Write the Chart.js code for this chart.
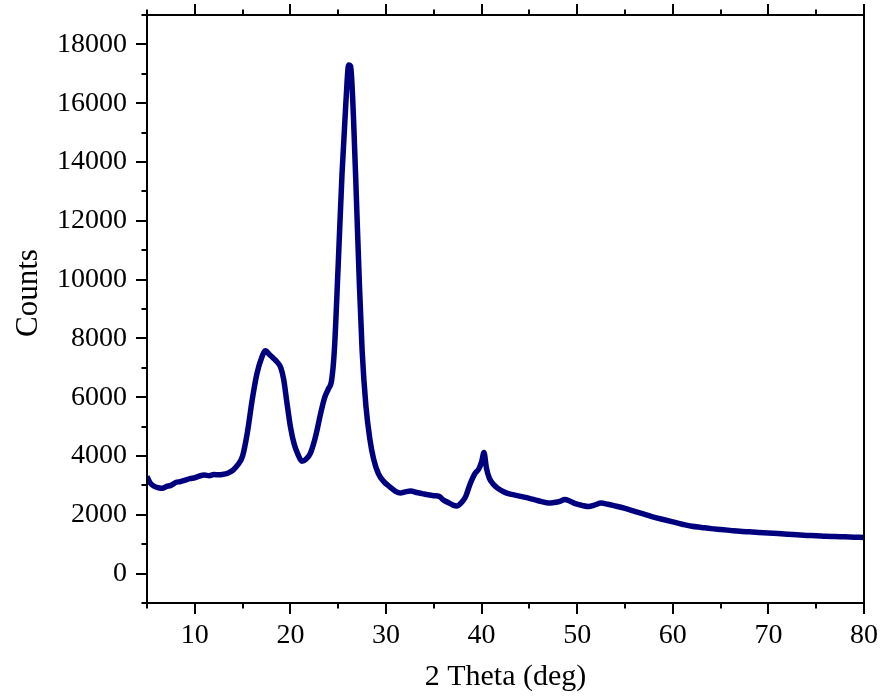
<!DOCTYPE html>
<html>
<head>
<meta charset="utf-8">
<script src="https://cdn.jsdelivr.net/npm/chart.js@4/dist/chart.umd.min.js"></script>
<style>
  html, body { margin: 0; padding: 0; background: #ffffff; }
  #wrap { width: 881px; height: 696px; }
</style>
</head>
<body>
<div id="wrap"><canvas id="xrd" width="881" height="696"></canvas></div>
<script>
// XRD pattern: diffraction angle (2θ, degrees) and detector counts
const twoTheta = [
  5.0, 5.3, 5.7, 6.2, 6.6, 7.0, 7.5, 8.0, 8.5, 9.0, 9.5, 10.0, 10.5, 11.0, 11.5,
  12.0, 12.5, 13.0, 13.5, 14.0, 14.5, 15.0, 15.5, 16.0, 16.5, 17.0, 17.4, 17.8,
  18.2, 18.6, 19.0, 19.3, 19.6, 20.0, 20.4, 20.8, 21.2, 21.6, 22.1, 22.5, 22.8,
  23.2, 23.6, 24.0, 24.3, 24.6, 25.0, 25.4, 25.8, 26.1, 26.3, 26.6, 26.9, 27.2,
  27.5, 27.9, 28.3, 28.7, 29.2, 29.8, 30.4, 31.0, 31.5, 32.0, 32.6, 33.2, 33.8,
  34.4, 35.0, 35.6, 36.0, 36.5, 37.0, 37.4, 37.9, 38.3, 38.8, 39.3, 39.7, 40.0,
  40.25, 40.5, 40.8, 41.2, 41.7, 42.2, 42.8, 43.5, 44.2, 45.0, 45.7, 46.3, 47.0,
  47.6, 48.2, 48.7, 49.2, 49.8, 50.5, 51.2, 51.8, 52.5, 53.2, 54.0, 55.0, 56.0,
  57.0, 58.0, 59.0, 60.0, 61.0, 62.0, 63.0, 64.0, 65.0, 66.0, 67.0, 68.0, 69.0,
  70.0, 71.0, 72.0, 73.0, 74.0, 75.0, 76.0, 77.0, 78.0, 79.0, 80.0
];
const counts = [
  3300, 3100, 2980, 2920, 2900, 2960, 3000, 3100, 3130, 3180, 3230, 3260, 3320, 3350, 3330,
  3370, 3360, 3380, 3420, 3520, 3700, 4000, 4800, 5900, 6800, 7350, 7580, 7450,
  7330, 7200, 7000, 6600, 5900, 5000, 4400, 4050, 3820, 3880, 4100, 4500, 4900,
  5500, 6000, 6300, 6550, 7600, 10500, 13600, 16000, 17300, 17250, 15500, 12800, 10000,
  7600, 5700, 4600, 3900, 3400, 3120, 2950, 2800, 2740, 2780, 2810, 2760, 2720,
  2680, 2650, 2620, 2500, 2420, 2330, 2300, 2420, 2600, 3050, 3400, 3560, 3800,
  4120, 3600, 3250, 3050, 2900, 2800, 2720, 2670, 2620, 2560, 2500, 2450, 2400,
  2420, 2460, 2520, 2470, 2380, 2320, 2280, 2330, 2400, 2360, 2300, 2220, 2120,
  2020, 1920, 1840, 1760, 1680, 1610, 1570, 1530, 1500, 1470, 1440, 1420, 1400,
  1380, 1360, 1340, 1320, 1300, 1290, 1270, 1260, 1250, 1240, 1230
];

// Axis tick labels (major) and minor tick positions
const xTickLabels = [10, 20, 30, 40, 50, 60, 70, 80];
const xMinorTicks = [5, 15, 25, 35, 45, 55, 65, 75];
const yTickLabels = [0, 2000, 4000, 6000, 8000, 10000, 12000, 14000, 16000, 18000];
const yMinorTicks = [-1000, 1000, 3000, 5000, 7000, 9000, 11000, 13000, 15000, 17000, 19000];

const xTitle = '2 Theta (deg)';
const yTitle = 'Counts';

const FONT = '"Liberation Serif", "Times New Roman", serif';

// Frame, outward tick marks and axis titles
const framePlugin = {
  id: 'frame',
  afterDraw(chart) {
    const { ctx, chartArea: a, scales } = chart;
    const xs = scales.x, ys = scales.y;
    const major = 11, minor = 5.5;
    ctx.save();
    ctx.strokeStyle = '#000';
    ctx.lineWidth = 2;
    ctx.lineCap = 'butt';
    ctx.strokeRect(a.left, a.top, a.right - a.left, a.bottom - a.top);

    ctx.beginPath();
    const xTick = (v, len) => {
      const px = Math.round(xs.getPixelForValue(v));
      ctx.moveTo(px, a.bottom); ctx.lineTo(px, a.bottom + len);
      ctx.moveTo(px, a.top); ctx.lineTo(px, a.top - len);
    };
    const yTick = (v, len) => {
      const py = Math.round(ys.getPixelForValue(v));
      ctx.moveTo(a.left, py); ctx.lineTo(a.left - len, py);
    };
    xTickLabels.forEach(v => xTick(v, major));
    xMinorTicks.forEach(v => xTick(v, minor));
    yTickLabels.forEach(v => yTick(v, major));
    yMinorTicks.forEach(v => yTick(v, minor));
    ctx.stroke();

    ctx.fillStyle = '#000';
    ctx.font = '30px ' + FONT;
    ctx.textAlign = 'center';
    ctx.textBaseline = 'alphabetic';
    ctx.fillText(xTitle, (a.left + a.right) / 2, 685);

    ctx.translate(37, 293);
    ctx.rotate(-Math.PI / 2);
    ctx.font = '31px ' + FONT;
    ctx.fillText(yTitle, 0, 0);
    ctx.restore();
  }
};

// Fixed axis band sizes with no extra edge padding for overhanging labels
const fixBand = (size) => (s) => {
  if (s.isHorizontal()) s.height = size; else s.width = size;
  s.paddingTop = 0; s.paddingBottom = 0; s.paddingLeft = 0; s.paddingRight = 0;
};

new Chart(document.getElementById('xrd'), {
  type: 'line',
  data: {
    datasets: [{
      data: twoTheta.map((t, i) => ({ x: t, y: counts[i] })),
      borderColor: '#00007f',
      borderWidth: 5.5,
      pointRadius: 0,
      cubicInterpolationMode: 'monotone',
      fill: false
    }]
  },
  options: {
    responsive: false,
    devicePixelRatio: 1,
    animation: false,
    layout: { padding: { left: 0, top: 15, right: 17, bottom: 0 } },
    plugins: { legend: { display: false }, tooltip: { enabled: false } },
    scales: {
      x: {
        type: 'linear',
        min: 5,
        max: 80,
        afterBuildTicks: s => { s.ticks = xTickLabels.map(v => ({ value: v })); },
        afterFit: fixBand(93),
        grid: { display: false, drawTicks: false },
        border: { display: false },
        ticks: {
          color: '#000',
          font: { family: FONT, size: 28 },
          padding: 16,
          maxRotation: 0,
          autoSkip: false
        }
      },
      y: {
        type: 'linear',
        min: -1000,
        max: 19000,
        afterBuildTicks: s => { s.ticks = yTickLabels.map(v => ({ value: v })); },
        afterFit: fixBand(147),
        grid: { display: false, drawTicks: false },
        border: { display: false },
        ticks: {
          color: '#000',
          font: { family: FONT, size: 28 },
          padding: 20,
          autoSkip: false,
          callback: v => String(v)
        }
      }
    }
  },
  plugins: [framePlugin]
});
</script>
</body>
</html>
